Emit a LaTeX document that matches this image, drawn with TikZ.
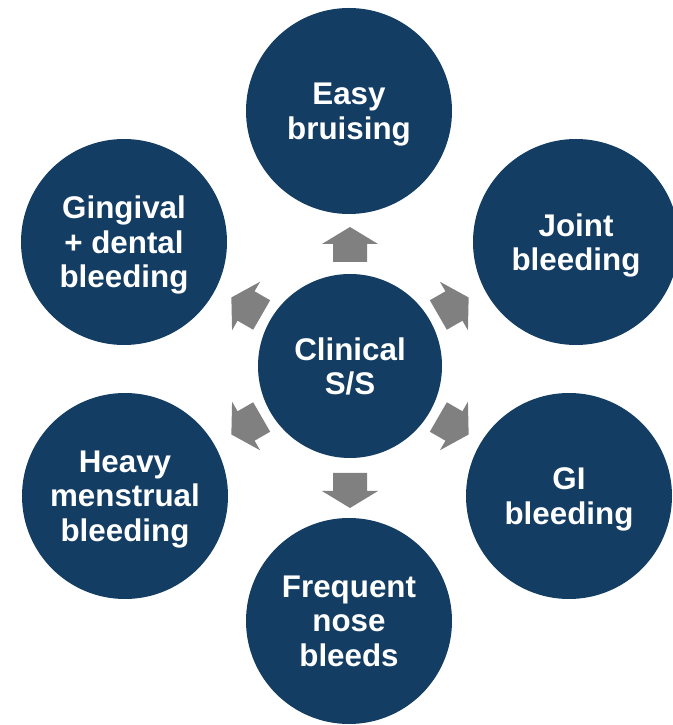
\documentclass[tikz,border=0pt]{standalone}
\usepackage{fontspec}
\setmainfont{Liberation Sans}
\definecolor{navy}{RGB}{19,61,99}
\definecolor{arrowgray}{RGB}{128,128,128}
\tikzset{
  bubble/.style={circle, fill=navy, draw=none, text=white, minimum size=206*0.75pt,
    inner sep=0pt, align=center, font=\fontsize{23.5pt}{25.9pt}\selectfont\bfseries},
  hub/.style={bubble, minimum size=184*0.75pt},
  blockarrow/.style={fill=arrowgray, draw=none}
}
% last line of a label: descenders do not count for centring
\newcommand{\lastline}[1]{\raisebox{0pt}[\height][0pt]{#1}}
% block arrow pointing away from a centre, at angle #2, tail at distance #3
\newcommand{\outarrow}[3]{%
  \begin{scope}[shift={(#1.center)}, rotate=#2]
    \fill[blockarrow] (#3,-17) -- (#3+18,-17) -- (#3+18,-28) -- (#3+35,0)
      -- (#3+18,28) -- (#3+18,17) -- (#3,17) -- cycle;
  \end{scope}}
\begin{document}
\begin{tikzpicture}[x=0.75pt, y=0.75pt]
  \useasboundingbox (0,0) rectangle (673,725);
  \clip (0,0) rectangle (673,725);
  \fill[white] (0,0) rectangle (673,725);

  \node[hub] (hub) at (350,359) {Clinical\\\lastline{S/S}};

  \node[bubble] (bruise) at (349,614) {Easy\\\lastline{bruising}};
  \node[bubble] (joint) at (576,483) {Joint\\\lastline{bleeding}};
  \node[bubble] (gi) at (569,229) {GI\\\lastline{bleeding}};
  \node[bubble] (nose) at (349,104) {Frequent\\nose\\\lastline{bleeds}};
  \node[bubble] (menses) at (125,229) {Heavy\\menstrual\\\lastline{bleeding}};
  \node[bubble] (gums) at (124,483) {Gingival\\+ dental\\\lastline{bleeding}};

  \outarrow{hub}{90}{104}
  \outarrow{hub}{30}{102}
  \outarrow{hub}{-30}{102}
  \outarrow{hub}{-90}{107}
  \outarrow{hub}{210}{102}
  \outarrow{hub}{150}{102}
\end{tikzpicture}
\end{document}
